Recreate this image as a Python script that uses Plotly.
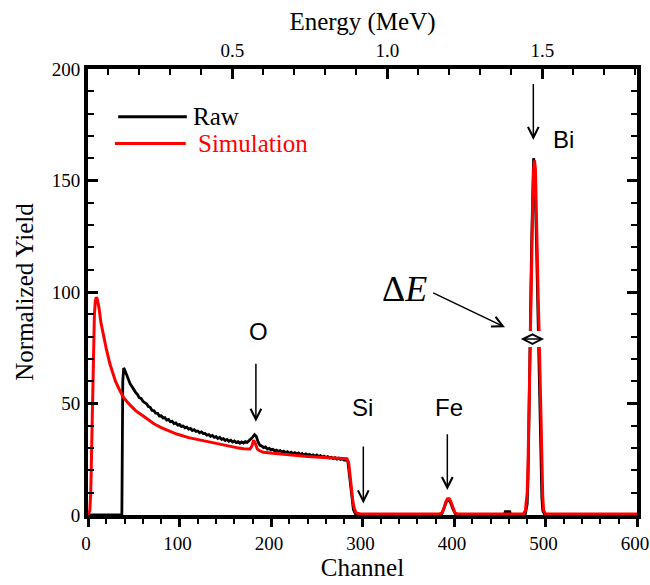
import plotly.graph_objects as go

# ---------------- data ----------------
raw_channel = [0, 36, 37, 38, 39, 40, 42, 44, 46, 48, 50, 52, 54, 56, 58, 60, 62, 64, 66, 68, 70,
               72, 74, 76, 78, 80, 82, 84, 86, 88, 90, 92, 94, 96, 98, 100, 102, 104, 106, 108, 110,
               112, 114, 116, 118, 120, 122, 124, 126, 128, 130, 132, 134, 136, 138, 140, 142, 144,
               146, 148, 150, 152, 154, 156, 158, 160, 162, 164, 166, 168, 170, 172, 174, 176, 178,
               180, 182, 184, 186, 188, 190, 192, 194, 196, 198, 200, 202, 204, 206, 208, 210, 212,
               214, 216, 218, 220, 222, 224, 226, 228, 230, 232, 234, 236, 238, 240, 242, 244, 246,
               248, 250, 252, 254, 256, 258, 260, 262, 264, 266, 268, 270, 272, 274, 276, 278, 280,
               282, 284, 286, 288, 290, 292, 294, 296, 386, 389, 392, 394, 396, 399, 402, 404, 455,
               456, 461, 462, 477, 478, 480, 481, 482, 483, 484, 485, 486, 487, 488, 489, 490, 491,
               492, 493, 494, 495, 496, 497, 499, 501, 600]
raw_yield = [0, 0, 0, 60, 65.9, 65.2, 63.0, 60.4, 58.9, 57.6, 56.2, 55.0, 54.1, 52.6, 52.3, 51.0,
             50.4, 49.9, 48.6, 48.3, 46.9, 46.8, 45.7, 45.6, 44.4, 44.5, 43.5, 43.7, 42.6, 42.9, 41.8,
             42.0, 41.0, 41.3, 40.3, 40.6, 39.7, 39.9, 39.1, 39.4, 38.5, 38.8, 37.9, 38.3, 37.5, 37.7,
             36.9, 37.3, 36.5, 36.6, 35.8, 36.1, 35.3, 35.7, 34.8, 35.1, 34.3, 34.8, 33.9, 34.2, 33.4,
             33.9, 33.1, 33.5, 32.7, 33.2, 32.5, 32.9, 32.2, 32.8, 32.3, 32.9, 32.6, 33.4, 33.8, 34.9,
             36.0, 35.2, 32.6, 31.2, 30.9, 30.2, 30.5, 29.6, 29.9, 29.2, 29.5, 28.8, 29.1, 28.5, 28.9,
             28.2, 28.6, 27.9, 28.4, 27.7, 28.2, 27.5, 28.0, 27.4, 27.8, 27.1, 27.6, 26.9, 27.4, 26.8,
             27.2, 26.6, 27.0, 26.4, 26.9, 26.2, 26.6, 25.9, 26.4, 25.8, 26.2, 25.6, 25.9, 25.3, 25.7,
             25.1, 25.5, 24.9, 25.2, 24.6, 24.9, 24.0, 17, 8, 2.5, 0.6, 0.1, 0, 0, 3, 6.3, 6.8, 5.8,
             2.5, 0.2, 0, 0, 1.5, 1.5, 0, 0, 0.5, 5, 18, 40, 70, 100, 125, 148, 160, 157, 145, 125,
             105, 85, 62, 40, 20, 8, 2, 0.3, 0, 0]

sim_channel = [0, 2, 3, 4, 5, 6, 7, 8, 9, 10, 12, 14, 17, 20, 24, 27, 30, 34, 38.6, 45, 52, 60,
               64, 72, 80, 90, 97, 110, 120, 133, 147, 157, 165, 170, 175, 177, 179, 181, 183, 185,
               187, 191.6, 205, 215, 228, 240, 258, 270, 279, 283, 285, 286.5, 288, 289.5, 291,
               292.5, 294, 296, 298, 384, 387, 389, 391, 393, 395, 397, 399, 401, 404, 476, 478,
               480, 481, 482, 483, 484, 485, 486, 487, 488, 489, 490, 491, 492, 493, 494, 495, 496,
               497, 498, 500, 600]
sim_yield = [0, 2, 10, 35, 60, 78, 90, 96, 97.6, 97, 93, 86.5, 80, 74.5, 67.7, 63.5, 60, 56.5,
             52.8, 49.7, 46.8, 44.5, 43.2, 40.9, 39.2, 37.6, 36.3, 34.7, 33.8, 32.6, 31.3, 30.6,
             30.0, 29.7, 29.4, 29.6, 30.8, 33.5, 32.0, 29.6, 28.9, 28.1, 27.6, 27.2, 26.6, 26.2,
             25.8, 25.5, 25.3, 25.2, 23, 17, 11, 6, 3, 1.4, 0.8, 0.5, 0.5, 0.5, 1, 3, 5.8, 7.3,
             7.3, 5.5, 3, 1, 0.5, 0.5, 2, 10, 25, 50, 75, 95, 115, 138, 155, 159, 155, 140, 118,
             98, 82, 62, 40, 20, 8, 2, 0.5, 0.5]

# energy calibration of the top axis (MeV = E0 + k * channel)
E0 = 0.0345
k_mev_per_channel = 0.002952
channel_range = [0, 600]
energy_range = [E0 + k_mev_per_channel * c for c in channel_range]

x_ticks = [0, 100, 200, 300, 400, 500, 600]
y_ticks = [0, 50, 100, 150, 200]
e_ticks = [0.5, 1.0, 1.5]

serif = "Liberation Serif"
sans = "Liberation Sans"

fig = go.Figure()
fig.add_trace(go.Scatter(x=raw_channel, y=raw_yield, mode="lines", name="Raw",
                         line=dict(color="black", width=2.8), showlegend=False))
fig.add_trace(go.Scatter(x=sim_channel, y=sim_yield, mode="lines", name="Simulation",
                         line=dict(color="#ff0000", width=3), showlegend=False))
# invisible trace that carries the energy axis
fig.add_trace(go.Scatter(x=energy_range, y=[0, 0], xaxis="x2", mode="markers",
                         marker=dict(opacity=0), showlegend=False, hoverinfo="skip"))

fig.update_layout(
    template="simple_white",
    width=650, height=585,
    margin=dict(l=88, r=13, t=69, b=70, autoexpand=False),
    plot_bgcolor="white", paper_bgcolor="white",
    font=dict(family=serif, color="black"),
    xaxis=dict(range=channel_range, tickmode="array", tickvals=x_ticks, ticks="outside",
               ticklen=8, tickwidth=2.5, tickcolor="black", automargin=True,
               ticklabeloverflow="allow", ticklabelshift=-2,
               minor=dict(tickmode="linear", tick0=0, dtick=20, ticks="outside", ticklen=5,
                          tickwidth=2, tickcolor="black", showgrid=False),
               showline=True, linewidth=4, linecolor="black", mirror=False,
               showgrid=False, zeroline=False,
               tickfont=dict(family=serif, size=19, color="black"),
               title=dict(text="Channel", font=dict(family=serif, size=25), standoff=4)),
    xaxis2=dict(range=energy_range, overlaying="x", side="top", anchor="y", automargin=True,
                tickmode="array", tickvals=e_ticks, ticktext=["0.5", "1.0", "1.5"],
                ticks="inside", ticklen=10, tickwidth=2.5, tickcolor="black",
                ticklabeloverflow="allow",
                minor=dict(tickmode="linear", dtick=0.1, tick0=0, ticks="inside", ticklen=6,
                           tickwidth=2, tickcolor="black", showgrid=False),
                showline=True, linewidth=4, linecolor="black",
                showgrid=False, zeroline=False,
                tickfont=dict(family=serif, size=19, color="black"),
                title=dict(text="Energy (MeV)", font=dict(family=serif, size=25), standoff=4)),
    yaxis=dict(range=[0, 200], tickmode="array", tickvals=y_ticks, ticks="inside", ticklen=10,
               tickwidth=2.5, tickcolor="black", automargin=True, ticklabeloverflow="allow",
               minor=dict(tickmode="linear", tick0=0, dtick=10, ticks="inside", ticklen=6,
                          tickwidth=2, tickcolor="black", showgrid=False),
               showline=True, linewidth=4, linecolor="black", mirror="ticks",
               showgrid=False, zeroline=False,
               tickfont=dict(family=serif, size=19, color="black"),
               title=dict(text="Normalized Yield", font=dict(family=serif, size=25), standoff=12)),
)

# legend (drawn manually, like the original)
fig.add_shape(type="line", xref="paper", yref="paper", x0=0.055, x1=0.18,
              y0=0.893, y1=0.893, line=dict(color="black", width=3), opacity=1)
fig.add_shape(type="line", xref="paper", yref="paper", x0=0.049, x1=0.178,
              y0=0.833, y1=0.833, line=dict(color="#ff0000", width=3), opacity=1)
fig.add_annotation(xref="paper", yref="paper", x=0.188, y=0.893, text="Raw", showarrow=False,
                   xanchor="left", yanchor="middle", font=dict(family=serif, size=25, color="black"))
fig.add_annotation(xref="paper", yref="paper", x=0.196, y=0.833, text="Simulation",
                   showarrow=False, xanchor="left", yanchor="middle",
                   font=dict(family=serif, size=25, color="#ff0000"))

# element labels
labels = [("O", 185.8, 82.5), ("Si", 300.5, 48.2), ("Fe", 394.3, 48.2), ("Bi", 520.2, 168.2)]
for txt, cx, cy in labels:
    fig.add_annotation(x=cx, y=cy, text=txt, showarrow=False, xanchor="center", yanchor="middle",
                       font=dict(family=sans, size=24, color="black"))

# arrows (head, tail)
arrows = [((183.5, 41.8), (183.5, 68.5)),
          ((300.9, 5.2), (300.9, 31.4)),
          ((392.7, 11.2), (392.7, 36.9)),
          ((486.7, 168.2), (486.7, 193.9)),
          ((455.7, 84.2), (375.6, 99.9))]
for (hx, hy), (tx, ty) in arrows:
    fig.add_annotation(x=hx, y=hy, ax=tx, ay=ty, xref="x", yref="y", axref="x", ayref="y",
                       text="", showarrow=True, arrowhead=5, arrowsize=1.4, arrowwidth=1.5,
                       arrowcolor="black", standoff=0)

# Delta E label and FWHM marker
fig.add_annotation(x=345.4, y=101.3, text="Δ<i>E</i>", showarrow=False,
                   font=dict(family=serif, size=36, color="black"))
fig.add_shape(type="rect", x0=472, x1=497.5, y0=75.3, y1=82.5, xref="x", yref="y",
              fillcolor="white", line=dict(width=0), layer="above", opacity=1)
fig.add_annotation(x=498.4, y=78.9, ax=471.4, ay=78.9, xref="x", yref="y", axref="x", ayref="y",
                   text="", showarrow=True, arrowhead=5, startarrowhead=5, arrowside="end+start",
                   arrowsize=1.3, startarrowsize=1.3, arrowwidth=1.5, arrowcolor="black",
                   standoff=0, startstandoff=0)

fig.write_html("out.html", config={"displayModeBar": False},
               post_script="document.body.style.margin='0';")
